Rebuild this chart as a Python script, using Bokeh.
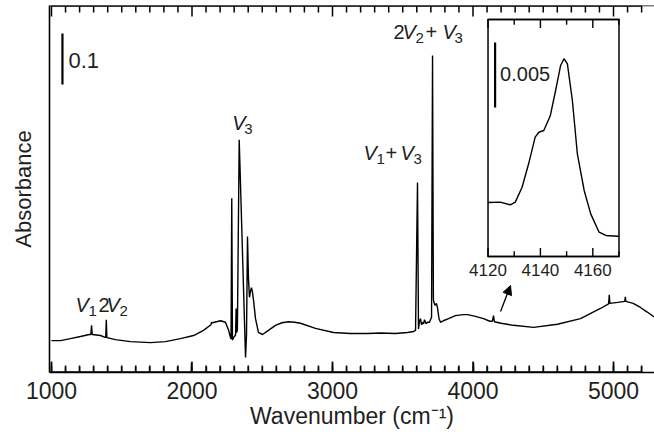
import math
from bokeh.plotting import figure
from bokeh.models import (LinearAxis, SingleIntervalTicker, FixedTicker, Range1d,
                          Label, Arrow, NormalHead, Span)
from bokeh.embed import file_html
from bokeh.resources import INLINE

FONT = "Liberation Sans"
TXT = "#231f20"

# ---- main spectrum (wavenumber cm-1, absorbance) ----
wn = [1000, 1064, 1135, 1206, 1270, 1280, 1285, 1290, 1349, 1386, 1390, 1394,
      1455, 1562, 1705, 1811, 1918, 2011, 2082, 2135, 2140, 2146, 2203, 2238,
      2260, 2272, 2278, 2283, 2288, 2296, 2310, 2314, 2318, 2323, 2336, 2381,
      2388, 2395, 2402, 2409, 2416, 2423, 2430, 2438, 2452, 2473, 2502, 2544,
      2594, 2640, 2687, 2730, 2772, 2879, 3007, 3128, 3249, 3342, 3448, 3534,
      3577, 3591, 3605, 3612, 3620, 3626, 3634, 3641, 3648, 3655, 3666, 3676,
      3690, 3705, 3712, 3718, 3722, 3730, 3740, 3747, 3758, 3769, 3790, 3826,
      3875, 3932, 3961, 4010, 4075, 4120, 4138, 4146, 4152, 4200, 4288, 4431,
      4601, 4765, 4907, 4965, 4970, 4974, 5030, 5080, 5084, 5088, 5140, 5192,
      5240, 5295]
ab = [0.039, 0.039, 0.043, 0.047, 0.051, 0.051, 0.069, 0.051, 0.049, 0.045, 0.080, 0.045,
      0.041, 0.037, 0.035, 0.037, 0.043, 0.049, 0.059, 0.070, 0.075, 0.074, 0.078, 0.075,
      0.060, 0.047, 0.042, 0.318, 0.040, 0.045, 0.050, 0.102, 0.055, 0.060, 0.433, 0.006,
      0.050, 0.243, 0.160, 0.124, 0.135, 0.143, 0.135, 0.118, 0.082, 0.055, 0.051, 0.059,
      0.069, 0.074, 0.076, 0.075, 0.073, 0.063, 0.055, 0.053, 0.053, 0.054, 0.053, 0.055,
      0.057, 0.059, 0.349, 0.062, 0.078, 0.082, 0.070, 0.075, 0.072, 0.080, 0.072, 0.075,
      0.075, 0.085, 0.598, 0.120, 0.114, 0.108, 0.112, 0.104, 0.082, 0.075, 0.078, 0.082,
      0.088, 0.090, 0.090, 0.087, 0.082, 0.077, 0.077, 0.088, 0.076, 0.073, 0.069, 0.065,
      0.071, 0.082, 0.102, 0.111, 0.129, 0.112, 0.114, 0.116, 0.125, 0.116, 0.112, 0.104,
      0.095, 0.084]

# ---- inset spectrum ----
inset_wn = [4120, 4124.6, 4128.5, 4130.4, 4133, 4135.5, 4138, 4139.4, 4141.3, 4143.8,
            4145.8, 4147.7, 4149, 4150.3, 4152.2, 4154.1, 4156.7, 4159.2, 4162.4, 4165,
            4169.5, 4170]
inset_ab = [0.00415, 0.00418, 0.00398, 0.00418, 0.00533, 0.00713, 0.00918, 0.00956,
            0.00969, 0.01085, 0.01277, 0.01469, 0.01521, 0.01482, 0.0120, 0.0079,
            0.00508, 0.00328, 0.00187, 0.00162, 0.00156, 0.00155]

main_ticks = list(range(1000, 5300, 100))          # minor every 100, major every 1000
inset_ticks = [4120, 4130, 4140, 4150, 4160, 4170]  # minor every 10, major every 20
inset_major_ticks = [4120, 4140, 4160]
inset_tick_labels = ["4120", "4140", "4160"]

# band labels: (x, y, [(text, dx, dy, italic, size)])
band_labels = [
    (2286, 0.465, [("V", 0, 0, True, "20px"), ("3", 12, -6, False, "15px")]),
    (3221, 0.406, [("V", 0, 0, True, "20px"), ("1", 13, -6, False, "15px"),
                   ("+", 22, 0, False, "20px"), ("V", 37, 0, True, "20px"),
                   ("3", 50, -6, False, "15px")]),
    (3434, 0.645, [("2", 0, 0, False, "20px"), ("V", 9, 0, True, "20px"),
                   ("2", 22, -6, False, "15px"), ("+", 32, 0, False, "20px"),
                   ("V", 49, 0, True, "20px"), ("3", 61, -6, False, "15px")]),
    (1171, 0.108, [("V", 0, 0, True, "20px"), ("1", 13, -6, False, "15px")]),
    (1335, 0.108, [("2", 0, 0, False, "20px"), ("V", 8, 0, True, "20px"),
                   ("2", 21, -6, False, "15px")]),
]

# main axis ranges
X_LO, X_HI = 985.8, 5291.8
Y_LO, Y_HI = -0.0235, 0.696
# inset data ranges, and the extra ranges that place the inset box in the frame
IX_LO, IX_HI = 4120, 4170
IY_LO, IY_HI = 0.0, 0.01823
INS_X = (3952.6, 4183.55)
INS_Y = (-0.008923, 0.019307)
# tick lengths in each y scale (about 10/6 px main, 8/5 px inset)
MAJ, MIN = 0.0206, 0.0125
IMAJ, IMIN = 0.000650, 0.000400


def style_axis(ax, label_size="23px"):
    ax.axis_line_width = 1.6
    ax.axis_line_color = "black"
    ax.major_tick_in = 0
    ax.major_tick_out = 0
    ax.minor_tick_in = 0
    ax.minor_tick_out = 0
    ax.major_tick_line_width = 1.5
    ax.minor_tick_line_width = 1.4
    ax.major_label_text_font = FONT
    ax.major_label_text_color = TXT
    ax.major_label_text_font_size = label_size
    ax.axis_label_text_font = FONT
    ax.axis_label_text_color = TXT
    ax.axis_label_text_font_size = "23px"
    ax.axis_label_text_font_style = "normal"


def tick_comb(fig, xs, lengths, base, sign, width, **kw):
    # one continuous path running along the edge with an inward spike per tick
    px, py = [], []
    for x, ln in zip(xs, lengths):
        px += [x, x, x]
        py += [base, base + sign * ln, base]
    fig.line(px, py, line_color="black", line_width=width, line_join="miter", **kw)


p = figure(width=654, height=432, x_range=Range1d(X_LO, X_HI),
           y_range=Range1d(Y_LO, Y_HI), output_backend="svg",
           toolbar_location=None, x_axis_location=None, y_axis_location=None,
           min_border_left=49, min_border_right=0, min_border_top=5,
           min_border_bottom=60)
p.extra_x_ranges = {"ins": Range1d(*INS_X)}
p.extra_y_ranges = {"ins": Range1d(*INS_Y)}
p.outline_line_color = None
p.grid.visible = False
p.background_fill_color = None
p.border_fill_color = None

bottom = LinearAxis(ticker=SingleIntervalTicker(interval=1000, num_minor_ticks=10),
                    axis_label="Wavenumber (cm\u207b\u00b9)")
style_axis(bottom)
bottom.major_tick_in = 10
bottom.minor_tick_in = 6
bottom.major_label_standoff = 9
bottom.axis_label_standoff = 1
p.add_layout(bottom, "below")

left = LinearAxis(ticker=FixedTicker(ticks=[]), axis_label="Absorbance")
style_axis(left, "0px")
left.axis_label_text_font_size = "22px"
left.major_label_standoff = 0
left.axis_label_standoff = 14
p.add_layout(left, "left")

p.add_layout(Span(location=Y_HI, dimension="width", line_color="black", line_width=1.6))

p.line(wn, ab, line_color="black", line_width=1.4)

main_lens = [MAJ if t % 1000 == 0 else MIN for t in main_ticks]
tick_comb(p, main_ticks, main_lens, Y_LO + 0.001, 1, 1.5)
tick_comb(p, main_ticks, main_lens, Y_HI - 0.001, -1, 1.5)

# scale bar 0.1
p.segment(x0=[1078], y0=[0.541], x1=[1078], y1=[0.641], line_color="black", line_width=2.2)
p.add_layout(Label(x=1078, y=0.589, x_offset=6, text="0.1", text_font=FONT,
                   text_font_size="22px", text_color=TXT, text_baseline="middle"))

for (lx, ly, pieces) in band_labels:
    for (t, dx, dy, it, sz) in pieces:
        p.add_layout(Label(x=lx, y=ly, x_offset=dx, y_offset=dy, text=t, text_font=FONT,
                           text_font_size=sz, text_color=TXT,
                           text_font_style="italic" if it else "normal",
                           text_baseline="alphabetic", text_align="left"))

p.add_layout(Arrow(end=NormalHead(size=9, fill_color="black", line_color="black"),
                   x_start=4196, y_start=0.096, x_end=4267, y_end=0.147,
                   line_color="black", line_width=1.3))

# ---- inset (drawn on the extra ranges) ----
R = dict(x_range_name="ins", y_range_name="ins")
p.quad(left=[IX_LO], right=[IX_HI], bottom=[IY_LO], top=[IY_HI], fill_color="white",
       line_color="black", line_width=1.5, **R)
inset_lens = [IMAJ if t in inset_major_ticks else IMIN for t in inset_ticks]
tick_comb(p, inset_ticks, inset_lens, IY_LO, 1, 1.4, **R)
tick_comb(p, inset_ticks, inset_lens, IY_HI, -1, 1.4, **R)
p.line(inset_wn, inset_ab, line_color="black", line_width=1.4, **R)
p.segment(x0=[4122.7], y0=[0.01146], x1=[4122.7], y1=[0.01646], line_color="black",
          line_width=2.2, **R)
p.add_layout(Label(x=4122.7, y=0.0140, x_offset=5, text="0.005", text_font=FONT,
                   text_font_size="20px", text_color=TXT, text_baseline="middle", **R))
for tx, tl in zip(inset_major_ticks, inset_tick_labels):
    p.add_layout(Label(x=tx, y=IY_LO, y_offset=-8, text=tl, text_font=FONT,
                       text_font_size="17px", text_color=TXT, text_align="center",
                       text_baseline="top", **R))

open("out.html", "w").write(file_html(p, INLINE))
